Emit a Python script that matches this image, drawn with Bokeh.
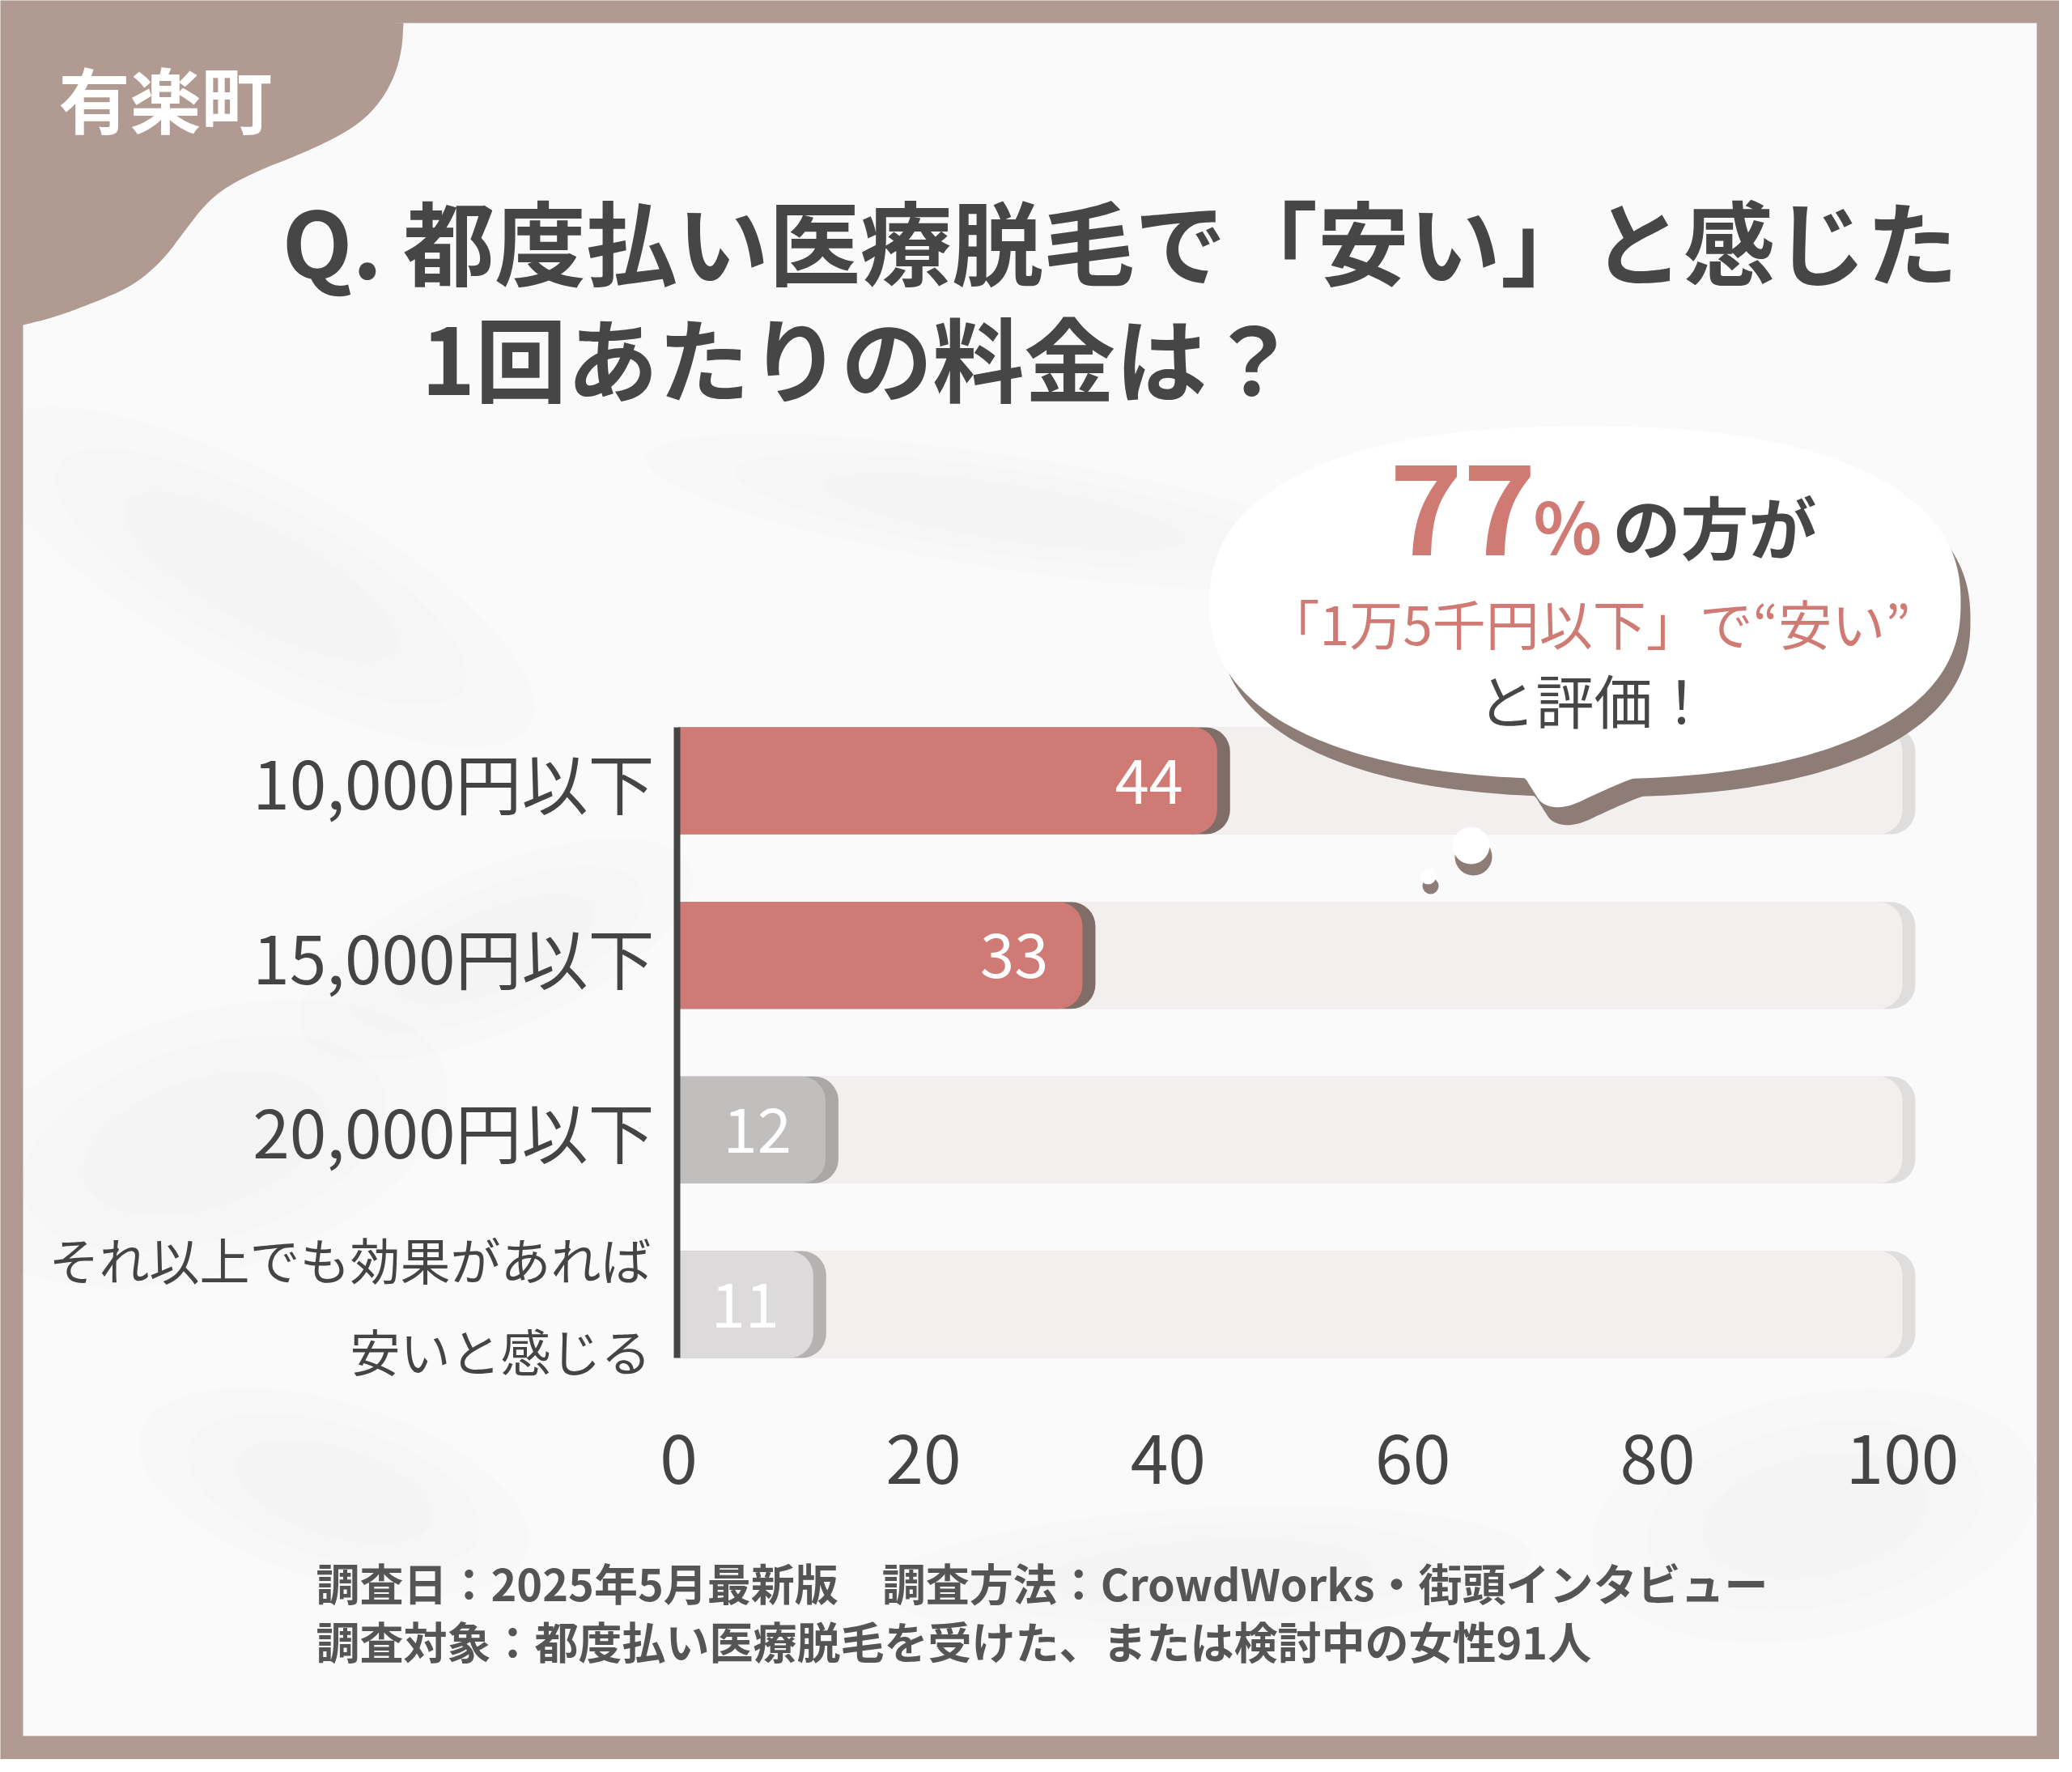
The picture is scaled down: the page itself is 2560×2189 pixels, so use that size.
import numpy as np
from bokeh.plotting import figure
from bokeh.models import Range1d, LinearAxis, FixedTicker, Label, ColumnDataSource
from bokeh.embed import file_html
from bokeh.resources import INLINE
from bokeh.core.properties import value

# ---------------- data ----------------
categories = ["10,000円以下", "15,000円以下", "20,000円以下", "それ以上でも効果があれば\n安いと感じる"]
percent = [44, 33, 12, 11]
track_max = 100
x_ticks = [0, 20, 40, 60, 80, 100]

brand = "有楽町"
title_lines = ["Q. 都度払い医療脱毛で「安い」と感じた", "1回あたりの料金は？"]
callout_num = "77"
callout_pct = "%"
callout_rest = "の方が"
callout_line2 = "「1万5千円以下」で“安い”"
callout_line3 = "と評価！"
footer_lines = ["調査日：2025年5月最新版　調査方法：CrowdWorks・街頭インタビュー",
                "調査対象：都度払い医療脱毛を受けた、または検討中の女性91人"]

# ---------------- styles ----------------
BROWN = "#b19a91"
PANEL = "#fafafa"
DARK = "#464646"
SALMON = "#d07a74"
bar_colors = ["#cf7a74", "#cf7a74", "#c1bfbe", "#dcdadb"]
shadow_colors = ["#806d67", "#806d67", "#a9a8a7", "#b6b2b1"]
FONT = "Noto Sans CJK JP"

W, H = 2544, 2173
M = 8


def fx(r):
    return r - M


def fy(r):
    return r - M


# value scale: 0 -> x 846, 100 -> x 2358 (page px)
X0, X100 = 846, 2358
upp = 100.0 / (X100 - X0)
val_start = -fx(X0) * upp
val_end = 100 + (W - fx(X100)) * upp
# category scale: first bar centre at y 972, step 215.67 px
C0, STEP = 972, 215.67
cat_top = -fy(C0) / STEP
cat_bottom = (H - fy(C0)) / STEP
bar_h = 132 / STEP
shadow_dx = 16 * upp

p = figure(width=W, height=H, x_range=Range1d(0, W), y_range=Range1d(H, 0),
           x_axis_type=None, y_axis_type=None, toolbar_location=None,
           output_backend="svg", min_border=0,
           background_fill_color=BROWN, border_fill_color=BROWN,
           outline_line_color=None)
p.extra_x_ranges = {"val": Range1d(val_start, val_end)}
p.extra_y_ranges = {"cat": Range1d(cat_bottom, cat_top)}

# white panel
p.quad(left=fx(36), right=fx(2524), top=fy(36), bottom=fy(2152),
       fill_color=PANEL, line_color=None)

# very soft watercolor smudges (stacked translucent ellipses)
sm_x = [fx(v) for v in (330, 260, 620, 1250, 2250, 1500, 420)]
sm_y = [fy(v) for v in (720, 1420, 1180, 640, 1880, 1950, 1850)]
sm_w = [760, 620, 520, 900, 560, 800, 500]
sm_h = [240, 320, 200, 140, 300, 160, 220]
sm_a = [-0.5, 0.3, 0.4, -0.15, 0.2, 0.05, -0.3]
for k in (1.0, 0.75, 0.5):
    p.ellipse(x=sm_x, y=sm_y, width=[w * k for w in sm_w], height=[h * k for h in sm_h],
              angle=sm_a, fill_color="#7a7a7a", fill_alpha=0.012, line_color=None)


def chaikin(pts, n=3):
    pts = np.asarray(pts, float)
    for _ in range(n):
        q = 0.75 * pts[:-1] + 0.25 * pts[1:]
        r = 0.25 * pts[:-1] + 0.75 * pts[1:]
        new = [pts[0]]
        for a, b in zip(q, r):
            new.extend([a, b])
        new.append(pts[-1])
        pts = np.array(new)
    return pts


# corner blob
blob = chaikin([(506, 36), (504, 70), (494, 105), (473, 140), (441, 168), (384, 196),
                (327, 218), (286, 239), (261, 260), (237, 291), (208, 330), (171, 361),
                (122, 382), (73, 400), (36, 409)])
bx = [fx(v) for v in blob[:, 0]] + [fx(20), fx(20)]
by = [fy(v) for v in blob[:, 1]] + [fy(409), fy(20)]
p.patch(bx, by, fill_color=BROWN, line_color=None)

p.add_layout(Label(x=fx(212), y=fy(127), text=brand, text_font=FONT, text_font_style="bold",
                   text_font_size="88px", text_color="white", text_align="center",
                   text_baseline="middle"))

# title
p.add_layout(Label(x=fx(356), y=fy(302), text=title_lines[0], text_font=FONT,
                   text_font_style="bold", text_font_size="113px", text_color=DARK,
                   text_align="left", text_baseline="middle"))
p.add_layout(Label(x=fx(528), y=fy(446), text=title_lines[1], text_font=FONT,
                   text_font_style="bold", text_font_size="113px", text_color=DARK,
                   text_align="left", text_baseline="middle"))

# bars
idx = list(range(len(categories)))
src = ColumnDataSource(dict(y=idx, v=percent, vs=[v + shadow_dx for v in percent],
                            t=[str(v) for v in percent], c=bar_colors, sc=shadow_colors,
                            tr=[track_max] * len(idx), trs=[track_max + shadow_dx] * len(idx)))
rad = (0, 30, 30, 0)
p.hbar(y="y", left=0, right="trs", height=bar_h, source=src, x_range_name="val",
       y_range_name="cat", fill_color="#e0dedd", line_color=None, border_radius=rad)
p.hbar(y="y", left=0, right="tr", height=bar_h, source=src, x_range_name="val",
       y_range_name="cat", fill_color="#f2efee", line_color=None, border_radius=rad)
p.hbar(y="y", left=0, right="vs", height=bar_h, source=src, x_range_name="val",
       y_range_name="cat", fill_color="sc", line_color=None, border_radius=rad)
p.hbar(y="y", left=0, right="v", height=bar_h, source=src, x_range_name="val",
       y_range_name="cat", fill_color="c", line_color=None, border_radius=rad)
p.text(x="v", y="y", text="t", source=src, x_range_name="val", y_range_name="cat",
       x_offset=-42, text_align="right", text_baseline="middle",
       text_font=value(FONT), text_font_size="76px", text_color="white")

# speech bubble
t = np.linspace(0, 2 * np.pi, 260)
n_se = 2.35
cx, cy, a, b = 1966, 752, 464, 218
ex = cx + a * np.sign(np.cos(t)) * np.abs(np.cos(t)) ** (2 / n_se)
ey = cy + b * np.sign(np.sin(t)) * np.abs(np.sin(t)) ** (2 / n_se)
tail = chaikin([(1840, 900), (1840, 955), (1888, 962), (1902, 985), (1914, 1003),
                (1942, 1006), (1980, 988), (2030, 966), (2100, 950), (2100, 900)], 3)
SDX, SDY = 12, 22
for dx, dy, col in ((SDX, SDY, "#8d7d76"), (0, 0, "white")):
    p.patch([fx(v + dx) for v in ex], [fy(v + dy) for v in ey], fill_color=col, line_color=None)
    p.patch([fx(v + dx) for v in tail[:, 0]], [fy(v + dy) for v in tail[:, 1]],
            fill_color=col, line_color=None)
# thought dots
p.circle(x=[fx(1828), fx(1775)], y=[fy(1066), fy(1102)], radius=[23, 10],
         fill_color="#8d7d76", line_color=None)
p.circle(x=[fx(1825), fx(1772)], y=[fy(1052), fy(1090)], radius=[23, 10],
         fill_color="white", line_color=None)

p.add_layout(Label(x=fx(1724), y=fy(636), text=callout_num, text_font=FONT,
                   text_font_style="bold", text_font_size="154px", text_color=SALMON,
                   text_baseline="middle"))
p.add_layout(Label(x=fx(1902), y=fy(654), text=callout_pct, text_font=FONT,
                   text_font_style="bold", text_font_size="88px", text_color=SALMON,
                   text_baseline="middle"))
p.add_layout(Label(x=fx(2000), y=fy(656), text=callout_rest, text_font=FONT,
                   text_font_style="bold", text_font_size="84px", text_color=DARK,
                   text_baseline="middle"))
p.add_layout(Label(x=fx(1970), y=fy(775), text=callout_line2, text_font=FONT,
                   text_font_size="66px", text_color=SALMON, text_align="center",
                   text_baseline="middle"))
p.add_layout(Label(x=fx(1977), y=fy(870), text=callout_line3, text_font=FONT,
                   text_font_size="72px", text_color=DARK, text_align="center",
                   text_baseline="middle"))

# footer
for line, yy in zip(footer_lines, (1962, 2034)):
    p.add_layout(Label(x=fx(398), y=fy(yy), text=line, text_font=FONT,
                       text_font_style="bold", text_font_size="54px", text_color="#555555",
                       text_align="left", text_baseline="middle"))

# axes
single = [i for i in idx if "\n" not in categories[i]]
multi = [i for i in idx if "\n" in categories[i]]

yaxis = LinearAxis(y_range_name="cat", ticker=FixedTicker(ticks=single),
                   fixed_location=fx(844), bounds=(-bar_h / 2, idx[-1] + bar_h / 2))
yaxis.major_label_overrides = {i: categories[i] for i in single}
yaxis.axis_line_width = 8
yaxis.axis_line_color = "#454545"
yaxis.major_tick_line_color = None
yaxis.minor_tick_line_color = None
yaxis.major_tick_in = 0
yaxis.major_tick_out = 0
yaxis.major_label_standoff = 28
yaxis.major_label_text_font = FONT
yaxis.major_label_text_font_size = "82px"
yaxis.major_label_text_color = "#444444"
p.add_layout(yaxis, "left")

yaxis2 = LinearAxis(y_range_name="cat", ticker=FixedTicker(ticks=multi),
                    fixed_location=fx(844))
yaxis2.major_label_overrides = {i: categories[i] for i in multi}
yaxis2.axis_line_color = None
yaxis2.major_tick_line_color = None
yaxis2.minor_tick_line_color = None
yaxis2.major_tick_in = 0
yaxis2.major_tick_out = 0
yaxis2.major_label_standoff = 32
yaxis2.major_label_text_font = FONT
yaxis2.major_label_text_font_size = "62px"
yaxis2.major_label_text_color = "#444444"
yaxis2.major_label_text_line_height = 1.25
p.add_layout(yaxis2, "left")

xaxis = LinearAxis(x_range_name="val", ticker=FixedTicker(ticks=x_ticks),
                   fixed_location=fy(1770))
xaxis.axis_line_color = None
xaxis.major_tick_line_color = None
xaxis.minor_tick_line_color = None
xaxis.major_tick_in = 0
xaxis.major_tick_out = 0
xaxis.major_label_standoff = 8
xaxis.major_label_text_font = FONT
xaxis.major_label_text_font_size = "84px"
xaxis.major_label_text_color = "#444444"
p.add_layout(xaxis, "below")

html = file_html(p, INLINE)
html = html.replace("<body>", '<body style="background-color:%s;">' % BROWN, 1)
open("out.html", "w").write(html)
